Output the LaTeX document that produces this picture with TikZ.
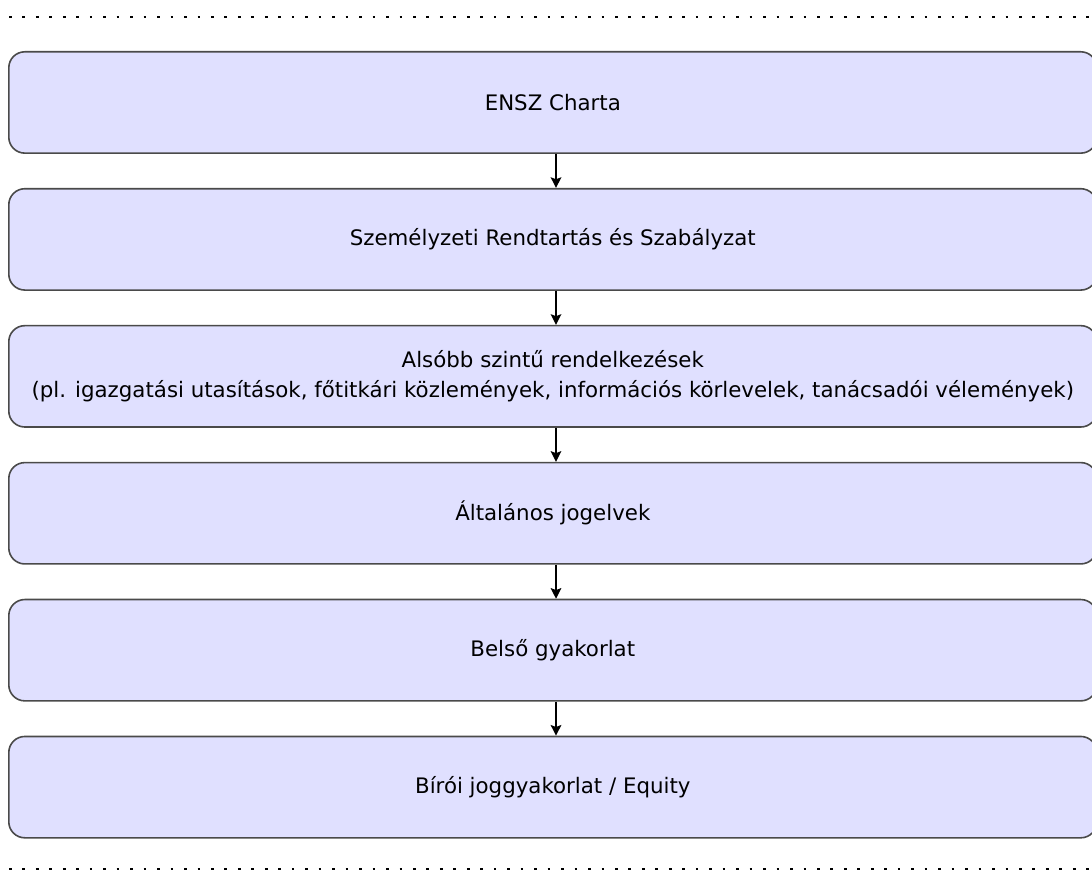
\documentclass[tikz,border=0pt]{standalone}
\usepackage{fontspec}
\setmainfont{DejaVu Sans}
\usetikzlibrary{positioning,arrows.meta}
\definecolor{boxfill}{HTML}{E0E0FF}
\definecolor{boxline}{HTML}{4A4A4A}
\tikzset{every picture/.style={>={Stealth[length=8pt,width=8pt,inset=1.5pt]},thin}}
\tikzset{level box/.style={draw=boxline,line width=1.2pt,fill=boxfill,rounded corners=12pt,
    minimum width=816pt,minimum height=76pt,align=center,inner sep=0pt,font=\fontsize{16}{22}\selectfont}}
\tikzset{sep line/.style={line width=2pt,dash pattern=on 2pt off 8.1pt}}
\tikzset{level arrow/.style={->,line width=1pt}}

\begin{document}
\begin{tikzpicture}[x=0.75pt,y=-0.75pt,node distance=25.5pt]
      \useasboundingbox (0,0) rectangle (1092,870);
      \draw [sep line] (9,17) -- (1092,17);
      \draw [sep line] (9,869) -- (1092,869);
      \node [level box,anchor=north west] (charta) at (8,51) {ENSZ Charta};
      \node [level box,below=of charta] (rendtartas) {Személyzeti Rendtartás és Szabályzat};
      \node [level box,below=of rendtartas] (also) {Alsóbb szintű rendelkezések\\(pl. igazgatási utasítások, főtitkári közlemények, információs körlevelek, tanácsadói vélemények)};
      \node [level box,below=of also] (jogelvek) {Általános jogelvek};
      \node [level box,below=of jogelvek] (gyakorlat) {Belső gyakorlat};
      \node [level box,below=of gyakorlat] (equity) {Bírói joggyakorlat / Equity};
      \draw[level arrow] (charta.south -| 556,0) -- (rendtartas.north -| 556,0);
      \draw[level arrow] (rendtartas.south -| 556,0) -- (also.north -| 556,0);
      \draw[level arrow] (also.south -| 556,0) -- (jogelvek.north -| 556,0);
      \draw[level arrow] (jogelvek.south -| 556,0) -- (gyakorlat.north -| 556,0);
      \draw[level arrow] (gyakorlat.south -| 556,0) -- (equity.north -| 556,0);
    \end{tikzpicture}
\end{document}
